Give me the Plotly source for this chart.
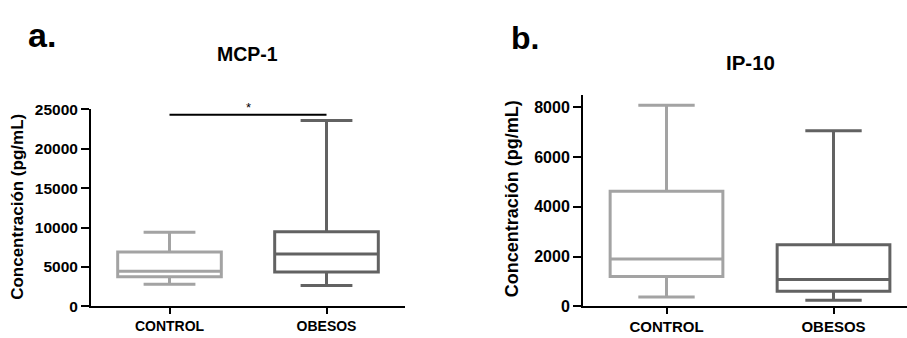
import plotly.graph_objects as go

categories = ["CONTROL", "OBESOS"]

# Panel a: MCP-1 (pg/mL)
mcp_min = [2800, 2650]
mcp_q1 = [3750, 4350]
mcp_median = [4450, 6650]
mcp_q3 = [6900, 9450]
mcp_max = [9400, 23600]
mcp_sig_y = 24300

# Panel b: IP-10 (pg/mL)
ip_min = [370, 240]
ip_q1 = [1195, 600]
ip_median = [1905, 1080]
ip_q3 = [4620, 2475]
ip_max = [8080, 7060]

mcp_ticks = [0, 5000, 10000, 15000, 20000, 25000]
ip_ticks = [0, 2000, 4000, 6000, 8000]

colors = ["#a3a3a3", "#626262"]
FONT = "Arial, 'Liberation Sans', Helvetica, sans-serif"
W, H = 907, 338

fig = go.Figure()

def add_boxes(xa, ya, mn, q1, med, q3, mx, width):
    for i, cat in enumerate(categories):
        fig.add_trace(go.Box(
            x=[cat], lowerfence=[mn[i]], q1=[q1[i]], median=[med[i]],
            q3=[q3[i]], upperfence=[mx[i]],
            width=width, whiskerwidth=0.5,
            line=dict(color=colors[i], width=3), fillcolor="rgba(255,255,255,0)",
            boxpoints=False, showlegend=False, xaxis=xa, yaxis=ya,
        ))

add_boxes("x", "y", mcp_min, mcp_q1, mcp_median, mcp_q3, mcp_max, 0.66)
add_boxes("x2", "y2", ip_min, ip_q1, ip_median, ip_q3, ip_max, 0.675)

# significance bar
fig.add_trace(go.Scatter(x=categories, y=[mcp_sig_y, mcp_sig_y], mode="lines",
                         line=dict(color="black", width=2), showlegend=False,
                         xaxis="x", yaxis="y", hoverinfo="skip"))

def px_x(p):
    return p / W

def px_y(p):
    return 1 - p / H

def axis_style(size):
    return dict(showline=True, linecolor="black", linewidth=2, ticks="outside",
                tickwidth=2, tickcolor="black", showgrid=False, zeroline=False,
                tickfont=dict(family=FONT, size=size, color="black", weight="bold"))

fig.update_layout(
    width=W, height=H,
    margin=dict(l=0, r=0, t=0, b=0),
    paper_bgcolor="white", plot_bgcolor="white",
    boxmode="overlay",
    xaxis=dict(domain=[px_x(91), px_x(405)], anchor="y", type="category",
               range=[-0.5, 1.5], ticklen=6, **axis_style(14)),
    yaxis=dict(domain=[px_y(314), px_y(106)], anchor="x", range=[0, 25000],
               tickvals=mcp_ticks, tickformat="d", ticklen=8, **axis_style(15.5)),
    xaxis2=dict(domain=[px_x(583), 1.0], anchor="y2", type="category",
                range=[-0.5, 1.44], ticklen=6, **axis_style(15)),
    yaxis2=dict(domain=[px_y(314), px_y(90.7)], anchor="x2", range=[0, 8500],
                tickvals=ip_ticks, tickformat="d", ticklen=8, **axis_style(16)),
)

ann = [
    dict(text="a.", x=px_x(26), y=px_y(27), xanchor="left", yanchor="middle",
         font=dict(family=FONT, size=34, color="black", weight="bold")),
    dict(text="b.", x=px_x(509), y=px_y(31), xanchor="left", yanchor="middle",
         font=dict(family=FONT, size=32, color="black", weight="bold")),
    dict(text="MCP-1", x=px_x(247), y=px_y(48), xanchor="center", yanchor="middle",
         font=dict(family=FONT, size=19.5, color="black", weight="bold")),
    dict(text="IP-10", x=px_x(750), y=px_y(57), xanchor="center", yanchor="middle",
         font=dict(family=FONT, size=20.5, color="black", weight="bold")),
    dict(text="Concentración (pg/mL)", x=px_x(18), y=px_y(209), textangle=-90,
         xanchor="center", yanchor="middle",
         font=dict(family=FONT, size=17, color="black", weight="bold")),
    dict(text="Concentración (pg/mL)", x=px_x(512), y=px_y(201), textangle=-90,
         xanchor="center", yanchor="middle",
         font=dict(family=FONT, size=18, color="black", weight="bold")),
    dict(text="*", x=px_x(249), y=px_y(104), xanchor="center", yanchor="middle",
         font=dict(family=FONT, size=13, color="black")),
]
for a in ann:
    a.update(xref="paper", yref="paper", showarrow=False)
fig.update_layout(annotations=ann)

fig.write_html("out.html", config={"displayModeBar": False},
               post_script="document.body.style.margin='0';document.body.style.overflow='hidden';")
